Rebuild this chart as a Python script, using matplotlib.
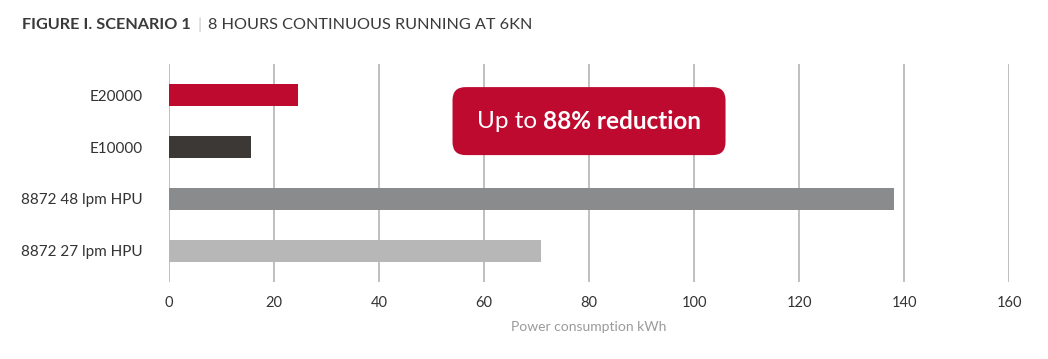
import matplotlib.pyplot as plt
from matplotlib.patches import FancyBboxPatch
from matplotlib.transforms import IdentityTransform

# data
labels = ["E20000", "E10000", "8872 48 lpm HPU", "8872 27 lpm HPU"]
values = [24.6, 15.6, 138.0, 70.9]
colors = ["#be0a2f", "#3c3835", "#898b8d", "#b7b7b7"]
xticks = [0, 20, 40, 60, 80, 100, 120, 140, 160]

plt.rcParams["font.family"] = ["Lato", "DejaVu Sans"]

fig = plt.figure(figsize=(10.48, 3.59), dpi=100)
ax = fig.add_axes([0.1613, 0.2145, 0.8015, 0.6072])

ypos = list(range(len(labels)))
ax.barh(ypos, values, height=0.43, color=colors, zorder=3)

ax.set_xlim(0, 160)
ax.set_ylim(3.6, -0.6)
ax.set_xticks(xticks)
ax.set_yticks(ypos)
ax.set_yticklabels(labels)
ax.grid(axis="x", color="#b4b4b4", linewidth=1.2, zorder=0)
for s in ax.spines.values():
    s.set_visible(False)
ax.tick_params(axis="y", length=0, pad=19, labelsize=11, labelcolor="#333333")
ax.tick_params(axis="x", length=0, pad=10, labelsize=10.5, labelcolor="#333333")
ax.set_xlabel("Power consumption kWh", fontsize=10, color="#9a9a9a", labelpad=8)

# callout box
fig.canvas.draw()
r = fig.canvas.get_renderer()
cx, cy = ax.transData.transform((80, 0.5))
bw, bh = 273, 68
box = FancyBboxPatch((cx - bw / 2, cy - bh / 2), bw, bh,
                     boxstyle="round,pad=0,rounding_size=13",
                     transform=IdentityTransform(), facecolor="#be0a2f",
                     edgecolor="none", zorder=5)
fig.patches.append(box)
t1 = fig.text(0, 0, "Up to ", fontsize=17.5, color="white", transform=IdentityTransform(), va="center", zorder=6)
t2 = fig.text(0, 0, "88% reduction", fontsize=17.5, color="white", fontweight="bold",
              transform=IdentityTransform(), va="center", zorder=6)
w1 = t1.get_window_extent(r).width
w2 = t2.get_window_extent(r).width
x0 = cx - (w1 + w2) / 2
t1.set_position((x0, cy))
t2.set_position((x0 + w1, cy))

# title
H = fig.bbox.height
ta = fig.text(22, H - 25, "FIGURE I. SCENARIO 1", fontsize=11.7, fontweight="bold",
              color="#3a3a3a", transform=IdentityTransform(), va="center")
wa = ta.get_window_extent(r).width
tb = fig.text(22 + wa + 7, H - 25, "|", fontsize=11.7, color="#c8c8c8",
              transform=IdentityTransform(), va="center")
wb = tb.get_window_extent(r).width
fig.text(22 + wa + 7 + wb + 6, H - 25, "8 HOURS CONTINUOUS RUNNING AT 6KN", fontsize=11.7,
         color="#3a3a3a", transform=IdentityTransform(), va="center")

fig.savefig("out.png", dpi=100)
